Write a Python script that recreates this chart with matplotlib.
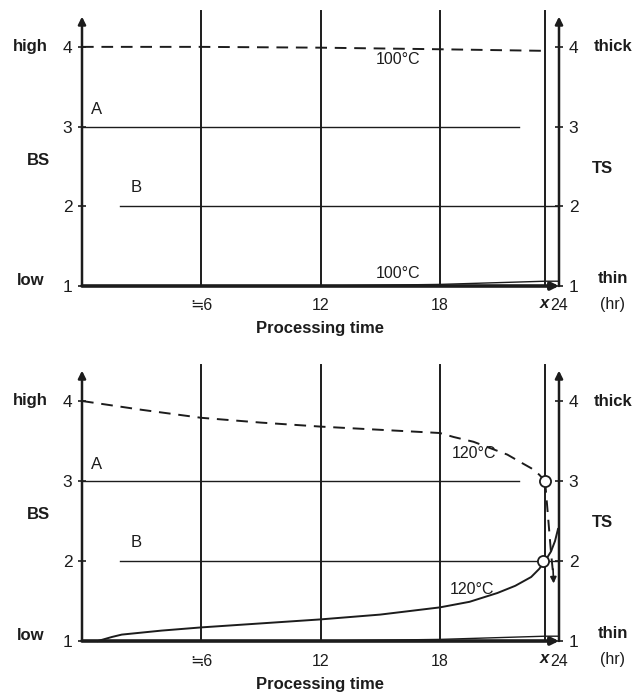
import matplotlib

matplotlib.use("Agg")
import matplotlib.pyplot as plt

# шрифт: Arial-подобный, ≒ берём из запасных семейств
plt.rcParams["font.family"] = ["Liberation Sans", "DejaVu Sans", "Noto Sans CJK JP"]
INK = "#1c1c1c"

# --- данные ---
X_TICKS = [6, 12, 18, 24]
X_TICK_LABELS = ["≒6", "12", "18", "24"]
X_MARK = 23.3
GRID_T = [6, 12, 18, X_MARK]
Y_TICKS = [1, 2, 3, 4]

LINE_A_T = [0, 22]
LINE_A_Y = [3, 3]
LINE_B_T = [1.9, 24]
LINE_B_Y = [2, 2]

# верхняя панель: 100°C
TOP_DASH_T = [0, 6, 12, 18, 23.3]
TOP_DASH_Y = [4.0, 4.0, 3.99, 3.97, 3.95]
THIN_T = [0, 12, 18, 23.3, 24]
THIN_Y = [1.0, 1.0, 1.02, 1.06, 1.06]

# нижняя панель: 120°C
BOT_DASH_T = [0, 3, 6, 9, 12, 15, 18, 18.7, 19.7, 20.55, 21.4, 22.1, 22.6, 23.0, 23.3]
BOT_DASH_Y = [4.0, 3.89, 3.79, 3.73, 3.68, 3.64, 3.60, 3.55, 3.49, 3.41, 3.33, 3.23, 3.16, 3.08, 3.0]
DROP_T = [23.3, 23.4, 23.5, 23.6, 23.7]
DROP_Y = [3.0, 2.7, 2.4, 2.1, 1.85]
BOT_SOLID_T = [0.8, 1.5, 2, 4, 6, 9, 12, 15, 18, 19.5, 20.9, 21.8, 22.6, 23.0, 23.3, 23.6, 23.8, 23.95]
BOT_SOLID_Y = [1.0, 1.05, 1.08, 1.13, 1.17, 1.22, 1.27, 1.33, 1.42, 1.49, 1.60, 1.69, 1.80, 1.90, 2.0, 2.12, 2.25, 2.4]
CIRCLE_T = [23.3, 23.2]
CIRCLE_Y = [3, 2]


def draw_panel(ax, temp, xlabel_y):
    ax.set_xlim(0, 24)
    ax.set_ylim(1, 4.45)
    for s in ax.spines.values():
        s.set_visible(False)
    ax.patch.set_alpha(0)

    # оси со стрелками
    arrow = dict(arrowstyle="-|>", color=INK, lw=1.8, mutation_scale=11,
                 shrinkA=0, shrinkB=0)
    ax.annotate("", xy=(0, 4.38), xytext=(0, 1), arrowprops=arrow, annotation_clip=False)
    ax.annotate("", xy=(24, 4.38), xytext=(24, 1), arrowprops=arrow, annotation_clip=False)
    ax.annotate("", xy=(24, 1), xytext=(0, 1),
                arrowprops=dict(arrow, lw=2.6), annotation_clip=False)

    # вертикальные линии времени
    for t in GRID_T:
        ax.plot([t, t], [1, 4.45], color=INK, lw=1.4, clip_on=False)

    ax.plot(LINE_A_T, LINE_A_Y, color=INK, lw=1.0)
    ax.plot(LINE_B_T, LINE_B_Y, color=INK, lw=1.0)
    ax.text(0.75, 3.21, "A", ha="center", va="center", fontsize=12, color=INK)
    ax.text(2.75, 2.23, "B", ha="center", va="center", fontsize=12, color=INK)

    ax.plot(THIN_T, THIN_Y, color=INK, lw=1.0, clip_on=False)

    if temp == 100:
        ax.plot(TOP_DASH_T, TOP_DASH_Y, color=INK, lw=1.4, ls=(0, (6, 4)))
        ax.text(15.9, 3.84, "100°C", ha="center", va="center", fontsize=11.5, color=INK)
        ax.text(15.9, 1.16, "100°C", ha="center", va="center", fontsize=11.5, color=INK)
    else:
        ax.plot(BOT_DASH_T, BOT_DASH_Y, color=INK, lw=1.4, ls=(0, (6, 4)))
        ax.plot(DROP_T, DROP_Y, color=INK, lw=1.4, ls=(0, (6, 4)))
        ax.annotate("", xy=(DROP_T[-1] + 0.03, 1.72), xytext=(DROP_T[-1], 1.9),
                    arrowprops=dict(arrowstyle="-|>", color=INK, lw=1.2,
                                    mutation_scale=9, shrinkA=0, shrinkB=0))
        ax.plot(BOT_SOLID_T, BOT_SOLID_Y, color=INK, lw=1.4, clip_on=False)
        ax.plot(CIRCLE_T, CIRCLE_Y, ls="none", marker="o", ms=8, mfc="white",
                mec=INK, mew=1.3, zorder=5)
        ax.text(19.7, 3.34, "120°C", ha="center", va="center", fontsize=11.5, color=INK)
        ax.text(19.6, 1.65, "120°C", ha="center", va="center", fontsize=11.5, color=INK)

    # тики
    ax.set_yticks(Y_TICKS)
    ax.tick_params(axis="y", direction="inout", length=6, width=1.2, colors=INK,
                   left=True, right=True, labelleft=True, labelright=True,
                   labelsize=12.5, pad=4)
    ax.set_xticks(X_TICKS, X_TICK_LABELS)
    ax.tick_params(axis="x", length=0, labelsize=11.5, colors=INK, pad=9)
    ax.text(X_MARK - 0.05, 0.78, "x", ha="center", va="center", fontsize=12,
            fontweight="bold", fontstyle="italic", color=INK, clip_on=False)

    # подписи
    kw = dict(ha="center", va="center", color=INK, clip_on=False)
    ax.text(-2.6, 4.0, "high", fontsize=12, fontweight="bold", **kw)
    ax.text(-2.6, 1.07, "low", fontsize=12, fontweight="bold", **kw)
    ax.text(-2.2, 2.58, "BS", fontsize=12, fontweight="bold", **kw)
    ax.text(26.7, 4.0, "thick", fontsize=12, fontweight="bold", **kw)
    ax.text(26.7, 1.1, "thin", fontsize=12, fontweight="bold", **kw)
    ax.text(26.7, 0.77, "(hr)", fontsize=11.5, **kw)
    ax.text(26.2, 2.48, "TS", fontsize=12, fontweight="bold", **kw)
    ax.text(12, xlabel_y, "Processing time", fontsize=12, fontweight="bold", **kw)


fig = plt.figure(figsize=(6.34, 6.92), dpi=100, facecolor="white")
ax_top = fig.add_axes([82 / 634, 1 - 286 / 692, 477 / 634, 275 / 692])
ax_bot = fig.add_axes([82 / 634, 1 - 641 / 692, 477 / 634, 276 / 692])
draw_panel(ax_top, 100, 0.47)
draw_panel(ax_bot, 120, 0.45)

fig.savefig("out.png", dpi=100, facecolor="white")
